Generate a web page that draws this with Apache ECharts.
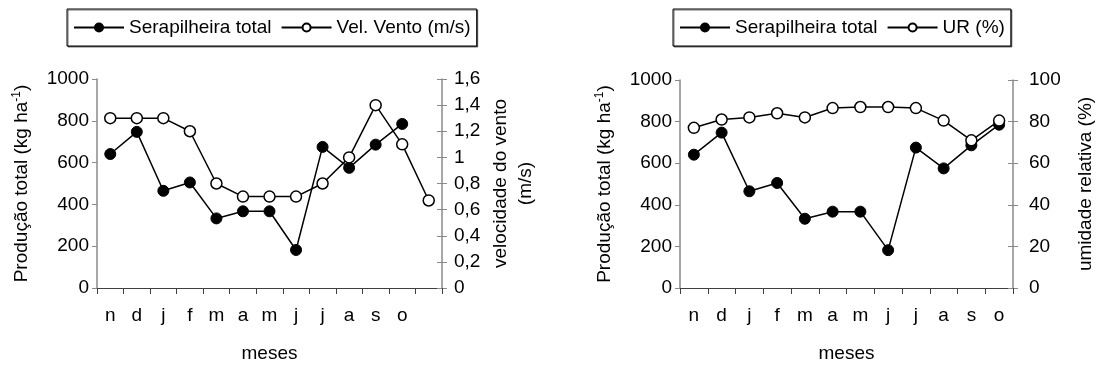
<!DOCTYPE html>
<html>
<head>
<meta charset="utf-8">
<script src="https://cdn.jsdelivr.net/npm/echarts@6/dist/echarts.min.js"></script>
<style>
  html, body { margin: 0; padding: 0; background: #fff; }
  #chart { width: 1099px; height: 368px; }
</style>
</head>
<body>
<div id="chart"></div>
<script>
// Monthly litterfall (Serapilheira total) with wind speed and relative humidity
const months = ['n', 'd', 'j', 'f', 'm', 'a', 'm', 'j', 'j', 'a', 's', 'o'];
const monthsWind = months.concat(['']);
const serapilheira = [641, 747, 465, 505, 333, 367, 367, 182, 675, 575, 686, 785];
const velVento = [1.3, 1.3, 1.3, 1.2, 0.8, 0.7, 0.7, 0.7, 0.8, 1.0, 1.4, 1.1, 0.67];
const umidade = [77, 81, 82, 84, 82, 86.5, 87, 87, 86.5, 80.5, 71, 80.5];

const FONT = 'Liberation Sans, Arial, Helvetica, sans-serif';
const FS = 19;
const AXIS_GREY = '#8a8a8a';
const X_AXIS = '#404040';

const plainFmt = v => String(v);
const commaFmt = v => String(+(+v).toFixed(1)).replace('.', ',');

function xAxisFor(gridIndex, cats) {
  return {
    type: 'category', gridIndex, data: cats, boundaryGap: true,
    name: 'meses', nameLocation: 'middle', nameGap: 56,
    nameTextStyle: { fontFamily: FONT, fontSize: FS, color: '#000' },
    axisLine: { lineStyle: { color: X_AXIS, width: 1 } },
    axisTick: { show: true, inside: false, length: 6, lineStyle: { color: X_AXIS } },
    axisLabel: { fontFamily: FONT, fontSize: FS, color: '#000', margin: 18, interval: 0 },
    splitLine: { show: false }
  };
}

function leftY(gridIndex) {
  return {
    type: 'value', gridIndex, position: 'left', min: 0, max: 1000, interval: 200,
    name: 'Produção total (kg ha{sup|-1})', nameLocation: 'middle', nameGap: 64, nameRotate: 90,
    nameTextStyle: {
      fontFamily: FONT, fontSize: FS, color: '#000',
      rich: { sup: { fontFamily: FONT, fontSize: 12, color: '#000', verticalAlign: 'top', lineHeight: 22 } }
    },
    axisLine: { show: true, lineStyle: { color: AXIS_GREY, width: 1.5 } },
    axisTick: { show: true, inside: false, length: 5, lineStyle: { color: AXIS_GREY } },
    axisLabel: { fontFamily: FONT, fontSize: FS, color: '#000', margin: 8, formatter: plainFmt },
    splitLine: { show: false }
  };
}

function rightY(gridIndex, max, interval, name, gap, margin, fmt) {
  return {
    type: 'value', gridIndex, position: 'right', min: 0, max, interval,
    name, nameLocation: 'middle', nameGap: gap, nameRotate: 90,
    nameTextStyle: { fontFamily: FONT, fontSize: FS, color: '#000', lineHeight: 25 },
    axisLine: { show: true, lineStyle: { color: AXIS_GREY, width: 1.5 } },
    axisTick: { show: true, inside: false, length: 5, lineStyle: { color: AXIS_GREY } },
    axisLabel: { fontFamily: FONT, fontSize: FS, color: '#000', margin, formatter: fmt },
    splitLine: { show: false }
  };
}

// inward half of the crossing tick marks on the secondary axes
function innerTicks(gridIndex, max, interval) {
  return {
    type: 'value', gridIndex, position: 'right', min: 0, max, interval,
    axisLine: { show: false },
    axisTick: { show: true, inside: true, length: 5, lineStyle: { color: AXIS_GREY } },
    axisLabel: { show: false },
    splitLine: { show: false }
  };
}

const filledLine = (name, xi, yi, data) => ({
  name, type: 'line', xAxisIndex: xi, yAxisIndex: yi, data,
  symbol: 'circle', symbolSize: 11, z: 3,
  lineStyle: { color: '#000', width: 1.5 },
  itemStyle: { color: '#000', borderColor: '#000', borderWidth: 1 },
  emphasis: { disabled: true }, animation: false
});

const openLine = (name, xi, yi, data) => ({
  name, type: 'line', xAxisIndex: xi, yAxisIndex: yi, data,
  symbol: 'circle', symbolSize: 11, z: 4,
  lineStyle: { color: '#000', width: 1.5 },
  itemStyle: { color: '#fff', borderColor: '#000', borderWidth: 1.5 },
  emphasis: { disabled: true }, animation: false
});

const legendBase = {
  orient: 'horizontal', top: 9, itemWidth: 50, itemHeight: 10, itemGap: 9,
  padding: [9, 6, 9, 6], borderColor: '#000', borderWidth: 1, backgroundColor: '#fff',
  shadowColor: 'rgba(0,0,0,0.55)', shadowOffsetX: 1, shadowOffsetY: 1, shadowBlur: 0,
  textStyle: { fontFamily: FONT, fontSize: FS, color: '#000' },
  selectedMode: false
};

const chart = echarts.init(document.getElementById('chart'), null, { renderer: 'canvas' });
chart.setOption({
  animation: false,
  backgroundColor: '#fff',
  legend: [
    Object.assign({}, legendBase, { left: 67, data: ['Serapilheira total', 'Vel. Vento (m/s)'] }),
    Object.assign({}, legendBase, { left: 673, data: ['Serapilheira total', 'UR (%)'] })
  ],
  grid: [
    { left: 97, top: 79, width: 345, height: 210 },
    { left: 680, top: 80, width: 334, height: 209 }
  ],
  xAxis: [xAxisFor(0, monthsWind), xAxisFor(1, months)],
  yAxis: [
    leftY(0),
    rightY(0, 1.6, 0.2, 'velocidade do vento\n(m/s)', 46, 12, commaFmt),
    leftY(1),
    rightY(1, 100, 20, 'umidade relativa (%)', 60, 16, plainFmt),
    innerTicks(0, 1.6, 0.2),
    innerTicks(1, 100, 20)
  ],
  series: [
    filledLine('Serapilheira total', 0, 0, serapilheira),
    openLine('Vel. Vento (m/s)', 0, 1, velVento),
    filledLine('Serapilheira total', 1, 2, serapilheira),
    openLine('UR (%)', 1, 3, umidade)
  ]
});
</script>
</body>
</html>
